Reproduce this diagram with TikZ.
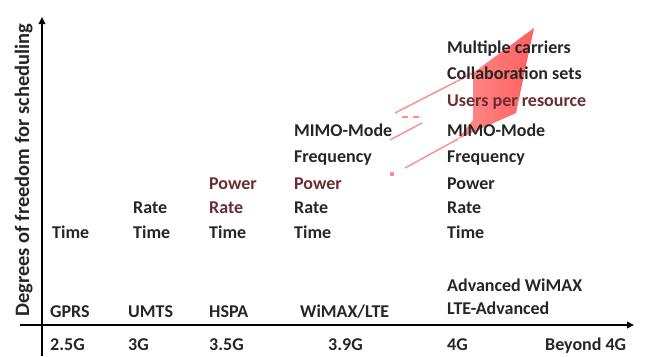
\documentclass[tikz,border=0pt]{standalone}
\usepackage{fontspec}
\setmainfont{Carlito}
\usetikzlibrary{arrows.meta}
\definecolor{arrowpink}{RGB}{255,140,140}
\definecolor{arrowred}{RGB}{255,95,95}
\definecolor{tintred}{RGB}{105,45,50}

\begin{document}
\begin{tikzpicture}[x=1pt,y=-1pt,
    item/.style={anchor=base west,inner sep=0pt,font=\fontsize{18}{20}\selectfont\bfseries,text=black!85},
    tint/.style={text=tintred},
    axis/.style={line width=2.4pt,-{Triangle[length=7pt,width=6.5pt]}},
    pinkline/.style={draw=arrowpink,line width=1.4pt}]
                \useasboundingbox (0,0) rectangle (652,356);
                % red arrow
                \shade[left color=arrowpink,right color=arrowred]
                    (473,73) -- (534,28) -- (516,113) -- (458,139) -- (473,120) -- cycle;
                \coordinate (a1) at (395,113);
                \coordinate (a2) at (473,73);
                \coordinate (b1) at (402,117);
                \coordinate (b2) at (422,117);
                \coordinate (c1) at (390,140);
                \coordinate (c2) at (422,123);
                \coordinate (d1) at (405,168);
                \coordinate (d2) at (458,139);
                \draw[pinkline] (a1) -- (a2);
                \draw[pinkline,dash pattern=on 6pt off 5pt] (b1) -- (b2);
                \draw[pinkline] (c1) -- (c2);
                \draw[pinkline] (d1) -- (d2);
                \fill[arrowpink] (390,172) rectangle (394,176);
                % axes
                \coordinate (yo) at (42,356);
                \coordinate (ytip) at (42,17);
                \coordinate (xo) at (20,325);
                \coordinate (xtip) at (634,325);
                \draw[axis] (yo) -- (ytip);
                \draw[axis] (xo) -- (xtip);
                \node[item,rotate=90,font=\fontsize{20.5}{22}\selectfont\bfseries] (ylab) at (29,317) {Degrees of freedom for scheduling};
                % generations
                \node[item] (g25) at (50,350) {2.5G};
                \node[item] (g3) at (128,350) {3G};
                \node[item] (g35) at (209,350) {3.5G};
                \node[item] (g39) at (328,350) {3.9G};
                \node[item] (g4) at (447,350) {4G};
                \node[item] (beyond) at (545,350) {Beyond 4G};
                % systems
                \node[item] (gprs) at (50,317) {GPRS};
                \node[item] (umts) at (128,317) {UMTS};
                \node[item] (hspa) at (209,317) {HSPA};
                \node[item] (wimax) at (300,317) {WiMAX/LTE};
                \node[item] (ltea) at (447,314) {LTE-Advanced};
                \node[item] (awimax) at (447,291) {Advanced WiMAX};
                % degrees of freedom
                \node[item] (t1) at (52,238) {Time};
                \node[item] (r2) at (133,213) {Rate};
                \node[item] (t2) at (133,238) {Time};
                \node[item,tint] (p3) at (209,189) {Power};
                \node[item,tint] (r3) at (209,213) {Rate};
                \node[item] (t3) at (209,238) {Time};
                \node[item] (mm4) at (294,136) {MIMO-Mode};
                \node[item] (f4) at (294,162) {Frequency};
                \node[item,tint] (p4) at (294,189) {Power};
                \node[item] (r4) at (294,213) {Rate};
                \node[item] (t4) at (294,238) {Time};
                \node[item] (mc5) at (447,53) {Multiple carriers};
                \node[item] (cs5) at (447,79) {Collaboration sets};
                \node[item,tint] (u5) at (447,106) {Users per resource};
                \node[item] (mm5) at (447,136) {MIMO-Mode};
                \node[item] (f5) at (447,162) {Frequency};
                \node[item] (p5) at (447,189) {Power};
                \node[item] (r5) at (447,213) {Rate};
                \node[item] (t5) at (447,238) {Time};
            \end{tikzpicture}
\end{document}
